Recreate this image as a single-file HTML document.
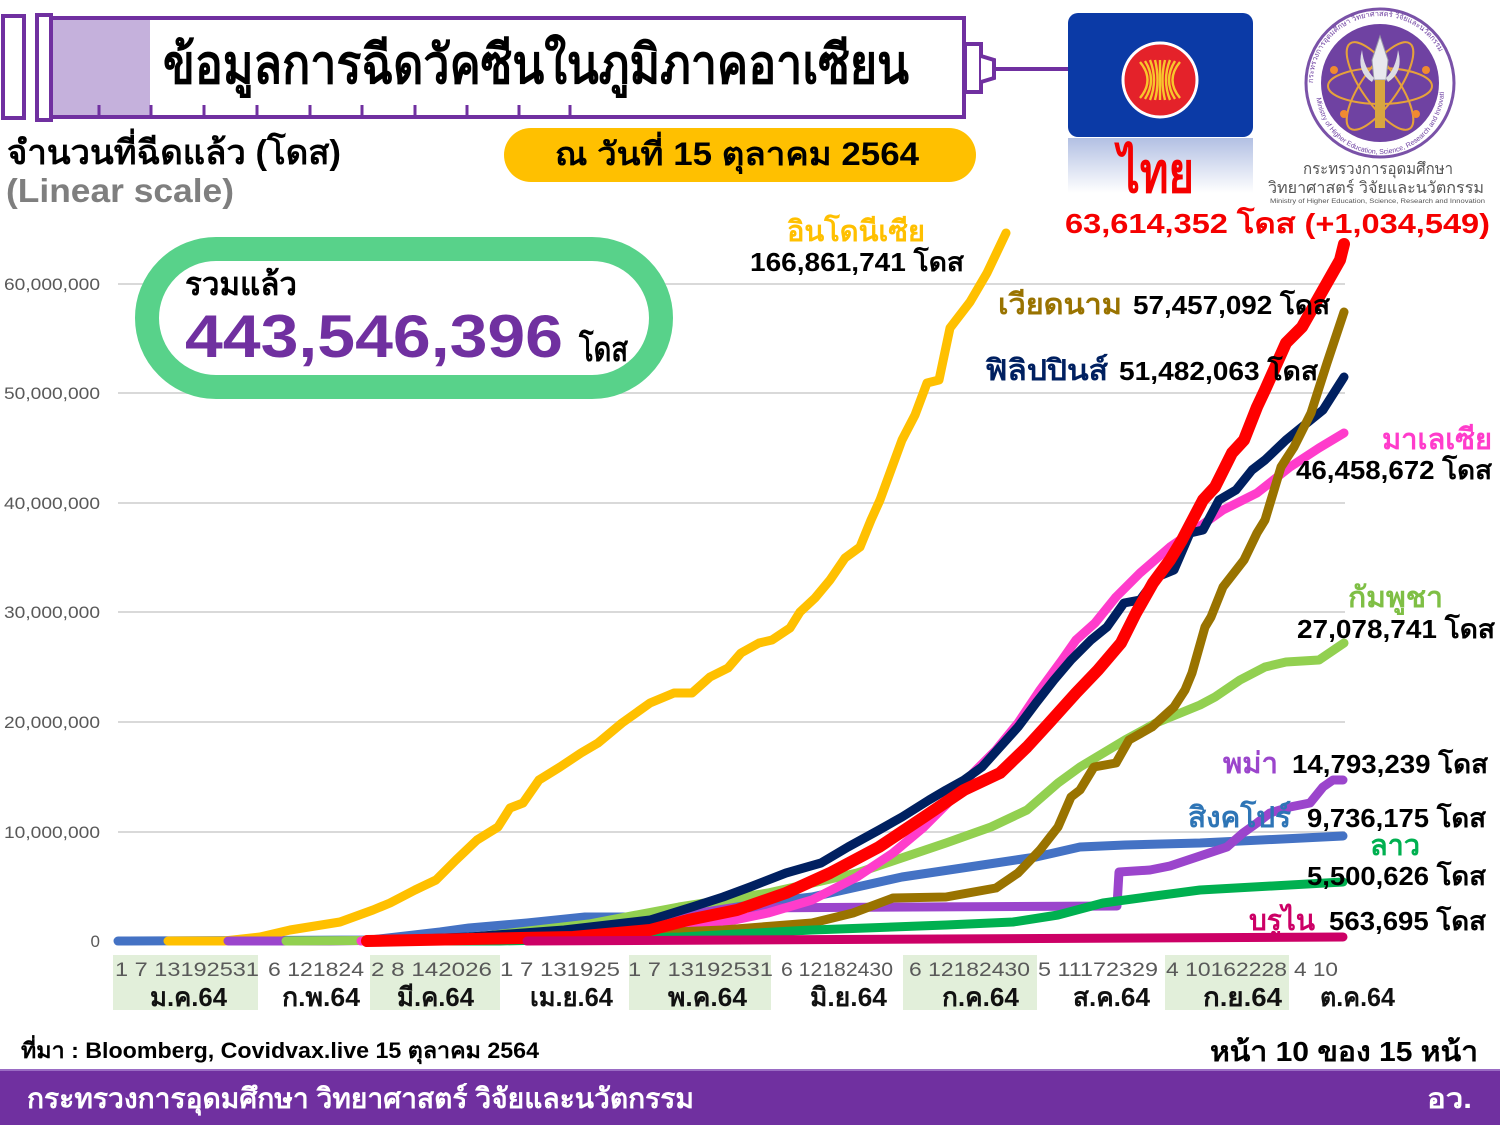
<!DOCTYPE html>
<html>
<head>
<meta charset="utf-8">
<style>
html,body{margin:0;padding:0;background:#fff;}
svg{display:block;}
text{font-family:"Liberation Sans","DejaVu Sans","Noto Sans CJK SC",sans-serif;}
.b{font-weight:bold;}
</style>
</head>
<body>
<svg width="1500" height="1125" viewBox="0 0 1500 1125" xmlns="http://www.w3.org/2000/svg">
<defs>
<linearGradient id="refl" x1="0" y1="0" x2="0" y2="1">
<stop offset="0" stop-color="#9fb0dc"/>
<stop offset="1" stop-color="#ffffff"/>
</linearGradient>
<path id="ringTop" d="M1313,83 A67,67 0 0 1 1447,83"/>
<path id="ringBot" d="M1316,90 A64,64 0 0 0 1444,90"/>
</defs>

<!-- Syringe header -->
<rect x="3" y="16" width="21" height="102" fill="#fff" stroke="#7030a0" stroke-width="4"/>
<rect x="37" y="15" width="14" height="105" fill="#fff" stroke="#7030a0" stroke-width="4"/>
<rect x="51" y="18" width="913" height="99" fill="#fff" stroke="#7030a0" stroke-width="4"/>
<rect x="53" y="20" width="97" height="95" fill="#c5b1dc"/>
<g stroke="#7030a0" stroke-width="3">
<line x1="99" y1="105" x2="99" y2="117"/><line x1="151" y1="105" x2="151" y2="117"/>
<line x1="204" y1="105" x2="204" y2="117"/><line x1="257" y1="105" x2="257" y2="117"/>
<line x1="310" y1="105" x2="310" y2="117"/><line x1="362" y1="105" x2="362" y2="117"/>
<line x1="415" y1="105" x2="415" y2="117"/><line x1="467" y1="105" x2="467" y2="117"/>
<line x1="519" y1="105" x2="519" y2="117"/><line x1="570" y1="105" x2="570" y2="117"/>
</g>
<rect x="965" y="44" width="16" height="48" fill="#fff" stroke="#7030a0" stroke-width="4"/>
<path d="M981,56 L994,60 L994,78 L981,82" fill="#fff" stroke="#7030a0" stroke-width="4"/>
<line x1="994" y1="69" x2="1070" y2="69" stroke="#7030a0" stroke-width="4"/>
<text x="163" y="83" class="b" font-size="54" fill="#000" textLength="746" lengthAdjust="spacingAndGlyphs">ข้อมูลการฉีดวัคซีนในภูมิภาคอาเซียน</text>

<!-- Subtitles -->
<text x="7" y="164" class="b" font-size="34" fill="#000" textLength="334" lengthAdjust="spacingAndGlyphs">จำนวนที่ฉีดแล้ว (โดส)</text>
<text x="6" y="202" class="b" font-size="33" fill="#7f7f7f" textLength="228" lengthAdjust="spacingAndGlyphs">(Linear scale)</text>

<rect x="504" y="128" width="472" height="54" rx="27" fill="#ffc000"/>
<text x="555" y="165" class="b" font-size="32" fill="#000" textLength="364" lengthAdjust="spacingAndGlyphs">ณ วันที่ 15 ตุลาคม 2564</text>

<!-- ASEAN flag -->
<rect x="1068" y="138" width="185" height="55" fill="url(#refl)" opacity="0.8"/>
<rect x="1068" y="13" width="185" height="124" rx="10" fill="#0b3aa6"/>
<circle cx="1160" cy="80" r="37" fill="#e4222a" stroke="#fff" stroke-width="3"/>
<g stroke="#f8c52c" stroke-width="2.4" fill="none">
<path d="M1140,62 Q1155,80 1140,98"/><path d="M1145,61 Q1157,80 1145,99"/>
<path d="M1150,60 Q1158,80 1150,100"/><path d="M1155,60 Q1160,80 1155,100"/>
<path d="M1160,60 L1160,100"/><path d="M1165,60 Q1160,80 1165,100"/>
<path d="M1170,60 Q1162,80 1170,100"/><path d="M1175,61 Q1163,80 1175,99"/>
<path d="M1180,62 Q1165,80 1180,98"/>
</g>

<!-- Ministry logo -->
<circle cx="1380" cy="83" r="74" fill="#fff" stroke="#7a52a8" stroke-width="3"/>
<circle cx="1380" cy="83" r="59" fill="#6f42a2"/>
<text font-size="7.5" fill="#6f42a2"><textPath href="#ringTop">กระทรวงการอุดมศึกษา วิทยาศาสตร์ วิจัยและนวัตกรรม</textPath></text>
<text font-size="7" fill="#6f42a2"><textPath href="#ringBot" startOffset="8">Ministry of Higher Education, Science, Research and Innovation</textPath></text>
<g fill="none" stroke="#e6a23a" stroke-width="2">
<ellipse cx="1380" cy="86" rx="52" ry="18"/>
<ellipse cx="1380" cy="86" rx="52" ry="18" transform="rotate(55 1380 86)"/>
<ellipse cx="1380" cy="86" rx="52" ry="18" transform="rotate(-55 1380 86)"/>
</g>
<g fill="#f08a30">
<circle cx="1334" cy="70" r="4"/><circle cx="1426" cy="70" r="4"/>
<circle cx="1344" cy="114" r="4"/><circle cx="1416" cy="114" r="4"/>
</g>
<path d="M1380,36 L1388,60 L1386,80 L1374,80 L1372,60 Z" fill="#e8e8ee" stroke="#9a9aa8" stroke-width="1"/>
<path d="M1362,50 Q1356,72 1372,82 L1374,78 Q1364,68 1362,50 Z" fill="#dcdce4"/>
<path d="M1398,50 Q1404,72 1388,82 L1386,78 Q1396,68 1398,50 Z" fill="#dcdce4"/>
<rect x="1375" y="80" width="10" height="48" fill="#d8a640"/>
<text x="1303" y="174" font-size="16" fill="#555" textLength="150" lengthAdjust="spacingAndGlyphs">กระทรวงการอุดมศึกษา</text>
<text x="1268" y="193" font-size="16" fill="#555" textLength="216" lengthAdjust="spacingAndGlyphs">วิทยาศาสตร์ วิจัยและนวัตกรรม</text>
<text x="1270" y="203" font-size="6.5" fill="#555" textLength="215" lengthAdjust="spacingAndGlyphs">Ministry of Higher Education, Science, Research and Innovation</text>

<!-- Thailand label -->
<text x="1118" y="192" class="b" font-size="56" fill="#f50000" textLength="76" lengthAdjust="spacingAndGlyphs">ไทย</text>
<text x="1065" y="233" class="b" font-size="28" fill="#f50000" textLength="425" lengthAdjust="spacingAndGlyphs">63,614,352 โดส (+1,034,549)</text>

<!-- Grid -->
<g stroke="#d9d9d9" stroke-width="2">
<line x1="118" y1="284" x2="1345" y2="284"/>
<line x1="118" y1="393" x2="1345" y2="393"/>
<line x1="118" y1="503" x2="1345" y2="503"/>
<line x1="118" y1="612" x2="1345" y2="612"/>
<line x1="118" y1="722" x2="1345" y2="722"/>
<line x1="118" y1="832" x2="1345" y2="832"/>
</g>
<g font-size="17" fill="#595959" text-anchor="end">
<text x="100" y="290" textLength="96" lengthAdjust="spacingAndGlyphs">60,000,000</text>
<text x="100" y="399" textLength="96" lengthAdjust="spacingAndGlyphs">50,000,000</text>
<text x="100" y="509" textLength="96" lengthAdjust="spacingAndGlyphs">40,000,000</text>
<text x="100" y="618" textLength="96" lengthAdjust="spacingAndGlyphs">30,000,000</text>
<text x="100" y="728" textLength="96" lengthAdjust="spacingAndGlyphs">20,000,000</text>
<text x="100" y="838" textLength="96" lengthAdjust="spacingAndGlyphs">10,000,000</text>
<text x="100" y="947">0</text>
</g>

<!-- Total pill -->
<rect x="147" y="249" width="514" height="138" rx="69" fill="#fff" stroke="#58d28a" stroke-width="24"/>
<text x="185" y="295" class="b" font-size="32" fill="#000" textLength="112" lengthAdjust="spacingAndGlyphs">รวมแล้ว</text>
<text x="185" y="357" class="b" font-size="60" fill="#7030a0" textLength="378" lengthAdjust="spacingAndGlyphs">443,546,396</text>
<text x="579" y="361" class="b" font-size="34" fill="#000" textLength="49" lengthAdjust="spacingAndGlyphs">โดส</text>

<!-- Month shading -->
<g fill="#e2efda">
<rect x="113" y="955" width="145" height="55"/>
<rect x="370" y="955" width="130" height="55"/>
<rect x="629" y="955" width="142" height="55"/>
<rect x="903" y="955" width="134" height="55"/>
<rect x="1165" y="955" width="124" height="55"/>
</g>

<!-- Series -->
<g fill="none" stroke-linejoin="round" stroke-linecap="round" stroke-width="9">
<polyline stroke="#4472c4" points="118,941 370,940 440,932 469,928 527,923 585,917 634,917 723,907 812,897 857,887 902,877 969,867 1036,857 1080,847 1125,845 1200,843 1343,836"/>
<polyline stroke="#ffc000" points="168,941 224,941 260,937 290,930 340,922 373,910 390,903 415,890 436,880 456,860 477,840 498,827 510,808 523,803 539,780 560,767 581,753 598,743 622,723 650,703 674,693 692,693 710,677 728,668 741,653 759,643 772,640 790,628 800,612 815,598 830,580 845,558 860,547 871,520 880,500 902,440 915,415 927,383 939,380 950,328 970,302 987,273 1006,233"/>
<polyline stroke="#9b45cc" points="228,941 330,941 450,939 550,935 650,925 700,912 730,908 1117,906 1119,872 1150,870 1170,866 1197,857 1227,847 1243,833 1257,823 1270,813 1290,807 1310,803 1323,787 1333,780 1343,780"/>
<polyline stroke="#92d050" points="286,941 450,940 589,924 679,907 768,893 857,873 946,843 991,827 1027,810 1058,783 1080,767 1125,740 1156,723 1200,705 1215,697 1240,680 1265,667 1286,662 1319,660 1344,643"/>
<polyline stroke="#ff3ccb" points="361,941 500,940 600,937 701,927 768,913 812,900 857,877 893,853 924,827 951,800 973,773 996,750 1018,723 1040,690 1062,660 1076,640 1095,623 1116,597 1140,573 1170,547 1199,527 1223,510 1257,493 1290,467 1319,448 1344,433"/>
<polyline stroke="#002060" points="373,941 469,937 564,930 650,920 692,907 723,897 750,887 786,873 821,863 848,847 879,830 902,817 929,800 946,790 964,780 982,767 1000,747 1018,727 1036,703 1054,680 1071,660 1091,640 1107,627 1124,603 1140,600 1157,577 1174,570 1190,533 1203,530 1219,500 1236,490 1252,470 1265,460 1286,440 1302,427 1323,410 1344,377"/>
<polyline stroke="#997300" points="402,941 500,939 723,930 812,923 853,913 893,898 946,897 996,888 1018,873 1040,850 1058,827 1071,797 1080,790 1094,767 1116,763 1129,740 1152,727 1174,707 1185,690 1192,673 1205,627 1211,617 1223,587 1244,560 1257,533 1265,520 1281,467 1294,447 1311,413 1327,363 1344,312"/>
<polyline stroke="#00b050" points="436,941 500,941 680,937 812,930 946,925 1013,922 1058,915 1103,903 1147,897 1200,890 1343,882"/>
<polyline stroke="#ff0000" stroke-width="12" points="367,941 573,937 650,930 688,920 737,910 786,893 830,873 879,847 924,817 964,790 1000,773 1027,747 1049,723 1076,693 1098,670 1121,643 1136,613 1153,583 1170,560 1182,540 1203,500 1215,487 1232,453 1244,440 1257,407 1265,390 1286,343 1302,327 1319,297 1340,260 1344,244"/>
<polyline stroke="#cc0066" points="527,941 1343,937"/>
</g>

<!-- Country labels -->
<text x="787" y="241" class="b" font-size="29" fill="#ffc000" textLength="138" lengthAdjust="spacingAndGlyphs">อินโดนีเซีย</text>
<text x="750" y="271" class="b" font-size="26" fill="#000" textLength="214" lengthAdjust="spacingAndGlyphs">166,861,741 โดส</text>
<text x="998" y="314" class="b" font-size="29" fill="#997300" textLength="124" lengthAdjust="spacingAndGlyphs">เวียดนาม</text>
<text x="1133" y="314" class="b" font-size="26" fill="#000" textLength="197" lengthAdjust="spacingAndGlyphs">57,457,092 โดส</text>
<text x="985" y="380" class="b" font-size="29" fill="#002060" textLength="123" lengthAdjust="spacingAndGlyphs">ฟิลิปปินส์</text>
<text x="1119" y="380" class="b" font-size="26" fill="#000" textLength="199" lengthAdjust="spacingAndGlyphs">51,482,063 โดส</text>
<text x="1382" y="449" class="b" font-size="29" fill="#ff3ccb" textLength="110" lengthAdjust="spacingAndGlyphs">มาเลเซีย</text>
<text x="1296" y="479" class="b" font-size="26" fill="#000" textLength="196" lengthAdjust="spacingAndGlyphs">46,458,672 โดส</text>
<text x="1348" y="607" class="b" font-size="29" fill="#7fbf45" textLength="95" lengthAdjust="spacingAndGlyphs">กัมพูชา</text>
<text x="1297" y="638" class="b" font-size="26" fill="#000" textLength="198" lengthAdjust="spacingAndGlyphs">27,078,741 โดส</text>
<text x="1223" y="773" class="b" font-size="29" fill="#9b45cc" textLength="55" lengthAdjust="spacingAndGlyphs">พม่า</text>
<text x="1292" y="773" class="b" font-size="26" fill="#000" textLength="196" lengthAdjust="spacingAndGlyphs">14,793,239 โดส</text>
<text x="1188" y="827" class="b" font-size="29" fill="#2e75b6" textLength="103" lengthAdjust="spacingAndGlyphs">สิงคโปร์</text>
<text x="1307" y="827" class="b" font-size="26" fill="#000" textLength="179" lengthAdjust="spacingAndGlyphs">9,736,175 โดส</text>
<text x="1370" y="855" class="b" font-size="29" fill="#00b050" textLength="50" lengthAdjust="spacingAndGlyphs">ลาว</text>
<text x="1307" y="885" class="b" font-size="26" fill="#000" textLength="179" lengthAdjust="spacingAndGlyphs">5,500,626 โดส</text>
<text x="1249" y="930" class="b" font-size="29" fill="#cc0066" textLength="66" lengthAdjust="spacingAndGlyphs">บรูไน</text>
<text x="1329" y="930" class="b" font-size="26" fill="#000" textLength="157" lengthAdjust="spacingAndGlyphs">563,695 โดส</text>

<!-- X axis labels -->
<g font-size="19" fill="#595959">
<text x="115" y="976" textLength="144" lengthAdjust="spacingAndGlyphs">1  7 13192531</text>
<text x="268" y="976" textLength="96" lengthAdjust="spacingAndGlyphs">6 121824</text>
<text x="371" y="976" textLength="121" lengthAdjust="spacingAndGlyphs">2  8 142026</text>
<text x="500" y="976" textLength="120" lengthAdjust="spacingAndGlyphs">1  7 131925</text>
<text x="628" y="976" textLength="145" lengthAdjust="spacingAndGlyphs">1  7 13192531</text>
<text x="781" y="976" textLength="112" lengthAdjust="spacingAndGlyphs">6 12182430</text>
<text x="909" y="976" textLength="121" lengthAdjust="spacingAndGlyphs">6 12182430</text>
<text x="1038" y="976" textLength="120" lengthAdjust="spacingAndGlyphs">5 11172329</text>
<text x="1166" y="976" textLength="121" lengthAdjust="spacingAndGlyphs">4 10162228</text>
<text x="1294" y="976" textLength="44" lengthAdjust="spacingAndGlyphs">4 10</text>
</g>
<g font-size="26" class="b" fill="#111">
<text x="150" y="1006" textLength="77" lengthAdjust="spacingAndGlyphs">ม.ค.64</text>
<text x="282" y="1006" textLength="78" lengthAdjust="spacingAndGlyphs">ก.พ.64</text>
<text x="397" y="1006" textLength="77" lengthAdjust="spacingAndGlyphs">มี.ค.64</text>
<text x="530" y="1006" textLength="83" lengthAdjust="spacingAndGlyphs">เม.ย.64</text>
<text x="668" y="1006" textLength="79" lengthAdjust="spacingAndGlyphs">พ.ค.64</text>
<text x="810" y="1006" textLength="77" lengthAdjust="spacingAndGlyphs">มิ.ย.64</text>
<text x="942" y="1006" textLength="77" lengthAdjust="spacingAndGlyphs">ก.ค.64</text>
<text x="1073" y="1006" textLength="77" lengthAdjust="spacingAndGlyphs">ส.ค.64</text>
<text x="1203" y="1006" textLength="79" lengthAdjust="spacingAndGlyphs">ก.ย.64</text>
<text x="1320" y="1006" textLength="75" lengthAdjust="spacingAndGlyphs">ต.ค.64</text>
</g>

<!-- Footer -->
<text x="21" y="1058" class="b" font-size="22" fill="#000" textLength="518" lengthAdjust="spacingAndGlyphs">ที่มา : Bloomberg, Covidvax.live 15 ตุลาคม 2564</text>
<text x="1210" y="1061" class="b" font-size="28" fill="#000" textLength="268" lengthAdjust="spacingAndGlyphs">หน้า 10 ของ 15 หน้า</text>
<rect x="0" y="1069" width="1500" height="56" fill="#7030a0"/>
<rect x="0" y="1069" width="1500" height="2" fill="#9a6cc4"/>
<text x="27" y="1108" class="b" font-size="28" fill="#fff" textLength="667" lengthAdjust="spacingAndGlyphs">กระทรวงการอุดมศึกษา วิทยาศาสตร์ วิจัยและนวัตกรรม</text>
<text x="1427" y="1108" class="b" font-size="28" fill="#fff" textLength="45" lengthAdjust="spacingAndGlyphs">อว.</text>
</svg>
</body>
</html>
